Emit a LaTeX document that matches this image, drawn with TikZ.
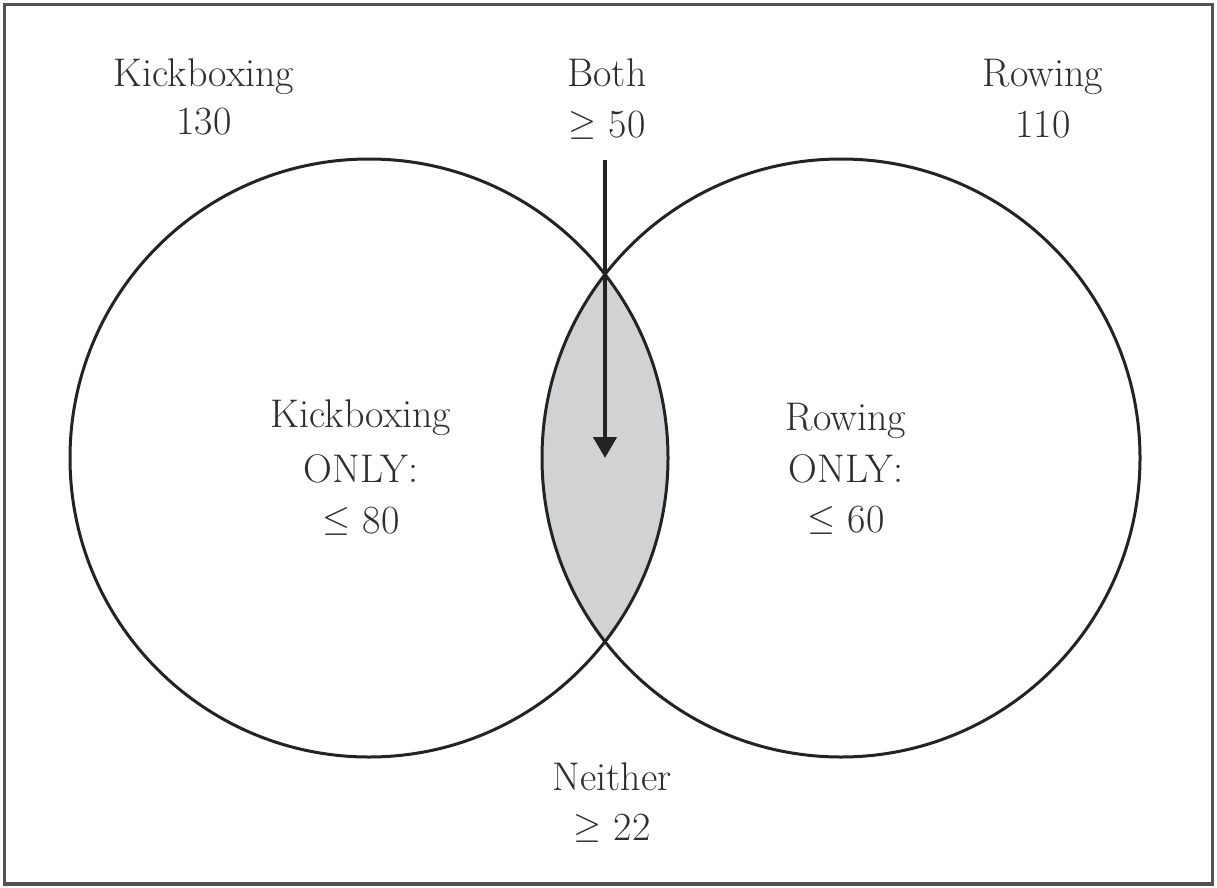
\documentclass[tikz,border=0pt]{standalone}
\usetikzlibrary{arrows.meta}
\definecolor{txt}{HTML}{2E2E2E}
\definecolor{ink}{HTML}{232323}
\definecolor{lens}{HTML}{D1D2D4}
\definecolor{frame}{HTML}{525252}
\newcommand{\bigge}{\raisebox{3pt}{\scalebox{1.45}{$\geq$}}}
\newcommand{\bigle}{\raisebox{3pt}{\scalebox{1.45}{$\leq$}}}
\begin{document}
\begin{tikzpicture}[x=1pt,y=-1pt,
  lbl/.style={anchor=base,inner sep=0pt,text=txt,font=\fontsize{40}{50}\selectfont},
  setcircle/.style={circle,draw=ink,line width=3pt,minimum size=598pt,inner sep=0pt},
  pointer/.style={draw=ink,line width=4.5pt,-{Triangle[width=23pt,length=21pt]}}]
\fill[white] (0,0) rectangle (1217,888);
\useasboundingbox (0,0) rectangle (1217,888);
\draw[frame,line width=3.5pt] (4.5,4.5) rectangle (1212.5,884);
% lens fill
\begin{scope}
  \clip (369,458) circle[radius=299];
  \fill[lens] (841,458) circle[radius=299];
\end{scope}
\node[setcircle] (K) at (369,458) {};
\node[setcircle] (R) at (841,458) {};
% labels
\node[lbl] (kbt) at (204,87) {Kickboxing};
\node[lbl] (kbn) at (204,135) {130};
\node[lbl] (both) at (607,87) {Both};
\node[lbl] (bothn) at (607,138) {\bigge\ 50};
\node[lbl] (rwt) at (1043,87) {Rowing};
\node[lbl] (rwn) at (1043,137) {110};
\node[lbl] (kbi1) at (361,427) {Kickboxing};
\node[lbl] (kbi2) at (361,482) {ONLY:};
\node[lbl] (kbi3) at (361,533) {\bigle\ 80};
\node[lbl] (rwi1) at (846,430) {Rowing};
\node[lbl] (rwi2) at (846,482) {ONLY:};
\node[lbl] (rwi3) at (846,532) {\bigle\ 60};
\node[lbl] (nei) at (612,790) {Neither};
\node[lbl] (nein) at (612,840) {\bigge\ 22};
% arrow
\coordinate (atop) at (605,160);
\coordinate (atip) at (605,458);
\draw[pointer] (atop) -- (atip);
\end{tikzpicture}
\end{document}
